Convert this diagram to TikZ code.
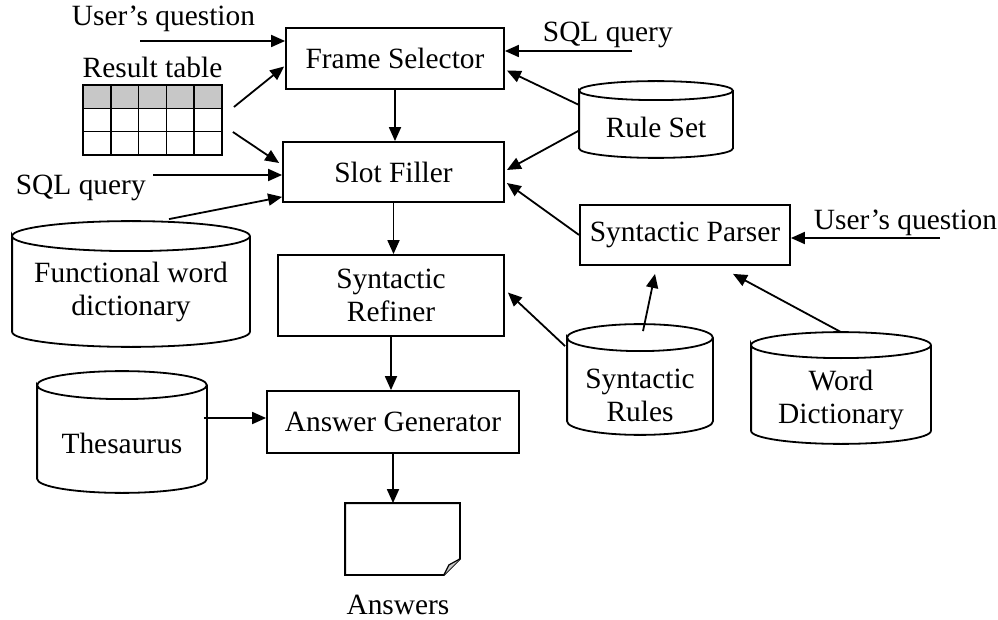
\documentclass[tikz,border=0pt]{standalone}
\usepackage{fontspec}
\setmainfont{Liberation Serif}
\usetikzlibrary{arrows.meta}
\usetikzlibrary{positioning}
\usetikzlibrary{calc}

\tikzset{
  box/.style={draw, rectangle, inner sep=0pt},
  store/.style={rectangle, inner sep=0pt},
  lbl/.style={inner sep=0pt}
}

\begin{document}
\begin{tikzpicture}[x=1pt,y=-1pt,>={Triangle[length=14pt,width=12pt]},line width=1.8pt,
  font=\fontsize{29.4}{33}\selectfont]
\useasboundingbox (0,0) rectangle (998,620);

% processing steps
\node[box, minimum width=218pt, minimum height=61pt] (frame) at (395,58.5) {Frame Selector};
\node[box, minimum width=221pt, minimum height=60pt] (slot) at (393.5,172) {Slot Filler};
\node[box, minimum width=226pt, minimum height=81pt, align=center] (refiner) at (391,295.5) {Syntactic\\Refiner};
\node[box, minimum width=252pt, minimum height=62pt] (gen) at (393,422) {Answer Generator};
\node[box, minimum width=210pt, minimum height=60pt] (parser) at (685,235) {Syntactic Parser};

% data stores
\node[store, minimum width=236pt, minimum height=124pt] (fwd) at (131,284) {};
\node[store, minimum width=168pt, minimum height=120pt] (thes) at (122,432) {};
\node[store, minimum width=144pt, minimum height=109pt] (rules) at (640,379.5) {};
\node[store, minimum width=178pt, minimum height=110pt] (wdict) at (841,388) {};
\node[store, minimum width=152pt, minimum height=75pt] (rset) at (656,119.5) {};
\foreach \c/\r/\d/\t in {fwd/15/8/{Functional word\\dictionary}, thes/14/11/Thesaurus,
    rules/13.5/16/{Syntactic\\Rules}, wdict/13/12/{Word\\Dictionary}, rset/9.5/8/Rule Set} {
  \draw let \p1=(\c.north west), \p2=(\c.south east), \n1={(\x2-\x1)/2} in
    (\x1,\y1-\r pt) arc[start angle=180, end angle=-180, x radius=\n1, y radius=\r pt]
    -- (\x1,\y2+\r pt) arc[start angle=180, end angle=360, x radius=\n1, y radius=\r pt]
    -- (\x2,\y1-\r pt);
  \node[lbl, align=center] (\c-text) at ([yshift=-\d pt]\c.center) {\t};
}

% result table
\node[store, minimum width=137pt, minimum height=68pt] (table) at (152.5,120) {};
\node[lbl, above=6pt of table] (table-text) {Result table};
\begin{scope}[line width=1.4pt]
  \fill[black!22] (table.north west) rectangle ($(table.north east)!1/3!(table.south east)$);
  \draw (table.north west) rectangle (table.south east);
  \foreach \i in {1,...,4}
    \draw ($(table.north west)!\i/5!(table.north east)$) -- ($(table.south west)!\i/5!(table.south east)$);
  \foreach \j in {1,2}
    \draw ($(table.north west)!\j/3!(table.south west)$) -- ($(table.north east)!\j/3!(table.south east)$);
\end{scope}

% answers document
\node[store, minimum width=113pt, minimum height=70pt] (ans) at (402.5,539) {};
\draw (ans.north west) -- (ans.north east) -- ([yshift=16pt]ans.south east)
  -- ([xshift=-16pt]ans.south east) -- (ans.south west) -- cycle;
\filldraw[fill=black!22, line width=1.2pt] ([yshift=16pt]ans.south east)
  -- ([xshift=-11pt,yshift=10pt]ans.south east) -- ([xshift=-16pt]ans.south east);
\node[lbl, anchor=base] (ans-text) at (398,614) {Answers};

% inputs
\node[lbl, anchor=base west] (uq1) at (71,26) {User's question};
\node[lbl, anchor=base west] (sq1) at (542,42) {SQL query};
\node[lbl, anchor=base west] (sq2) at (15,195) {SQL query};
\node[lbl, anchor=base west] (uq2) at (813,230) {User's question};
\coordinate (uq1-in) at (140,41);
\coordinate (sq1-in) at (632,51);
\coordinate (sq2-in) at (153,175);
\coordinate (uq2-in) at (940,238);

\path[->] (uq1-in) edge (uq1-in -| frame.west)
          (sq1-in) edge (sq1-in -| frame.east)
          (sq2-in) edge (sq2-in -| slot.west)
          (uq2-in) edge (uq2-in -| parser.east)
          ($(table.east)+(12,-13)$) edge ($(frame.west)+(-1,8)$)
          ($(table.east)+(11,12)$) edge ($(slot.west)+(-3,-9)$)
          ($(fwd.north)+(38,-2)$) edge ($(slot.south west)+(0,-6)$)
          ($(rset.west)+(0,-14.5)$) edge ($(frame.east)+(2,12)$)
          ($(rset.west)+(0,11)$) edge ($(slot.east)+(2,-2)$)
          (parser.west) edge ($(slot.east)+(2,11)$)
          (frame.south) edge (frame.south |- slot.north)
          (slot.south) edge (slot.south |- refiner.north)
          (refiner.south) edge (refiner.south |- gen.north)
          (gen.south) edge (gen.south |- ans.north)
          ($(thes.east)+(-3,-14)$) edge ($(gen.west)+(0,-4)$)
          ($(rules.north west)+(-2,22)$) edge ($(refiner.east)+(3,-3)$)
          ($(rules.north)+(3,7)$) edge ($(parser.south)+(-30,8)$)
          (wdict.north) edge ($(parser.south)+(48,8)$);
\end{tikzpicture}
\end{document}
